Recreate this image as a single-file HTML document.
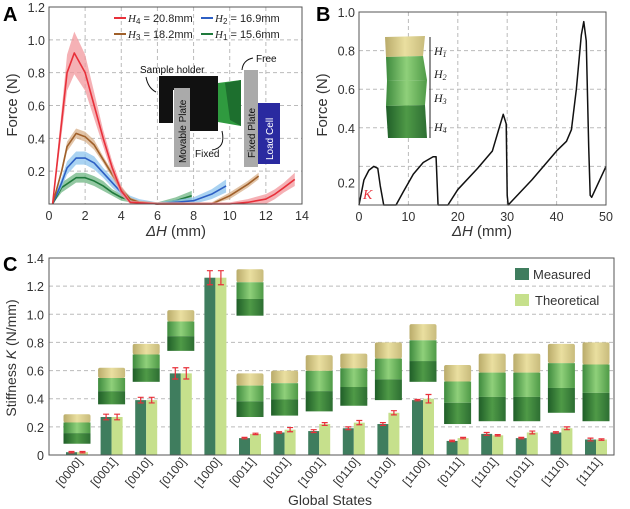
<!DOCTYPE html>
<html><head><meta charset="utf-8">
<style>
html,body{margin:0;padding:0;background:#fff;}
svg{display:block;font-family:"Liberation Sans",Arial,sans-serif;}
</style></head>
<body>
<svg id="fig" width="630" height="509" viewBox="0 0 630 509">
<defs>
<linearGradient id="gy" x1="0" x2="1"><stop offset="0" stop-color="#b9ab6a"/><stop offset="0.5" stop-color="#eadfa0"/><stop offset="1" stop-color="#c8bb7c"/></linearGradient>
<linearGradient id="gg" x1="0" x2="1"><stop offset="0" stop-color="#3e8a3e"/><stop offset="0.5" stop-color="#8fd07a"/><stop offset="1" stop-color="#4f9a47"/></linearGradient>
<linearGradient id="gd" x1="0" x2="1"><stop offset="0" stop-color="#1f5e28"/><stop offset="0.5" stop-color="#4f9a47"/><stop offset="1" stop-color="#2d6e32"/></linearGradient>
</defs>
<g id="pa"></g>
<g id="pb"></g>
<g id="pc"></g>
</svg>
<script>
// ---------- Panel A data ----------
const aXTicks = [0,2,4,6,8,10,12,14];
const aYTicks = [0.2,0.4,0.6,0.8,1.0,1.2];
const aH4x = [0.2,0.5,1,1.4,2,2.5,3,3.5,4,4.5,6,8,10,11,12,12.5,13,13.6];
const aH4y = [0,0.3,0.8,0.92,0.8,0.6,0.4,0.22,0.08,0.01,0,0,0,0.01,0.03,0.06,0.1,0.15];
const aH4e = [0.01,0.05,0.11,0.13,0.11,0.08,0.05,0.04,0.03,0.01,0.01,0.01,0.01,0.02,0.03,0.03,0.03,0.04];
const aH3x = [0.2,0.7,1,1.5,2,2.5,3,3.5,4,4.5,5,6,9,10,11,11.6];
const aH3y = [0,0.2,0.35,0.43,0.41,0.36,0.27,0.18,0.09,0.03,0.01,0,0,0.05,0.12,0.17];
const aH3e = [0.01,0.02,0.03,0.03,0.03,0.03,0.02,0.02,0.02,0.01,0.01,0.01,0.01,0.02,0.02,0.02];
const aH2x = [0.2,0.7,1,1.5,2,2.5,3,3.5,4,4.5,5,6,8,9,9.8];
const aH2y = [0,0.13,0.22,0.28,0.28,0.25,0.19,0.13,0.07,0.03,0.01,0,0.02,0.06,0.11];
const aH2e = [0.01,0.03,0.04,0.04,0.04,0.04,0.03,0.03,0.02,0.02,0.02,0.01,0.02,0.03,0.04];
const aH1x = [0.2,0.7,1.5,2,2.5,3,3.5,4,5,6,7,7.9];
const aH1y = [0,0.1,0.16,0.16,0.14,0.11,0.07,0.04,0.01,0,0.02,0.05];
const aH1e = [0.01,0.03,0.03,0.03,0.03,0.03,0.02,0.02,0.01,0.01,0.02,0.03];
// ---------- Panel B data ----------
const bXTicks = [0,10,20,30,40,50];
const bYTicks = [0.2,0.4,0.6,0.8,1.0];
const bX = [0,1,2,3,3.8,4.3,5,7.5,9,11,13,15,15.6,16,18,20,24,27,28.5,29.2,29.8,30,30.2,35,40,42,43,44,45,45.5,46,46.5,46.8,47.1,50];
const bY = [0,0.13,0.18,0.2,0.19,0.1,0,0,0.07,0.16,0.22,0.25,0.25,0,0,0.08,0.19,0.28,0.41,0.47,0.42,0.05,0,0.13,0.28,0.33,0.39,0.6,0.88,0.95,0.85,0.3,0.05,0.04,0.2];
// ---------- Panel C data ----------
const cCats = ["[0000]","[0001]","[0010]","[0100]","[1000]","[0011]","[0101]","[1001]","[0110]","[1010]","[1100]","[0111]","[1101]","[1011]","[1110]","[1111]"];
const cMeasured = [0.02,0.27,0.39,0.58,1.26,0.12,0.16,0.17,0.19,0.22,0.39,0.10,0.15,0.12,0.16,0.11];
const cMeasErr = [0.005,0.02,0.02,0.04,0.05,0.005,0.005,0.01,0.01,0.01,0.005,0.005,0.01,0.005,0.005,0.01];
const cTheory = [0.02,0.27,0.39,0.58,1.26,0.15,0.18,0.22,0.23,0.30,0.40,0.12,0.14,0.16,0.19,0.11];
const cTheoErr = [0.005,0.02,0.02,0.04,0.05,0.005,0.015,0.01,0.015,0.015,0.03,0.005,0.005,0.01,0.01,0.005];
const cYTicks = [0,0.2,0.4,0.6,0.8,1.0,1.2,1.4];
const cImgTop = [0.29,0.62,0.79,1.03,1.32,0.58,0.60,0.71,0.72,0.80,0.93,0.64,0.72,0.72,0.79,0.80];
const cImgBot = [0.08,0.36,0.52,0.74,0.99,0.27,0.28,0.31,0.35,0.39,0.52,0.22,0.24,0.24,0.30,0.24];

const NS="http://www.w3.org/2000/svg";
function mk(parent,tag,attrs,text){const e=document.createElementNS(NS,tag);for(const k in attrs)e.setAttribute(k,attrs[k]);if(text!==undefined)e.textContent=text;parent.appendChild(e);return e;}

// ===== Panel A =====
(function(){
const g=document.getElementById('pa');
const L=49,R=302,T=7,B=204;
const sx=v=>L+v/14*(R-L), sy=v=>B-v/1.2*(B-T);
let t=mk(g,'text',{x:3,y:21,'font-size':20,'font-weight':'bold'},'A');

aXTicks.forEach(v=>{ if(v>0&&v<14){const l=mk(g,'line',{x1:sx(v),x2:sx(v),y1:T,y2:B,stroke:'#bbb','stroke-dasharray':'4,3'});}
 const tx=mk(g,'text',{x:sx(v),y:B+16,'font-size':12.5,'text-anchor':'middle',fill:'#333'},String(v));
 });
aYTicks.forEach(v=>{ if(v<1.2){const l=mk(g,'line',{x1:L,x2:R,y1:sy(v),y2:sy(v),stroke:'#bbb','stroke-dasharray':'4,3'});}
 const tx=mk(g,'text',{x:L-4,y:sy(v)+5,'font-size':12.5,'text-anchor':'end',fill:'#333'},v.toFixed(1));
 });
const series=[[aH1x,aH1y,aH1e,'#1f7a3c','#6fb583','h1'],[aH2x,aH2y,aH2e,'#2d5fc4','#8ec4ee','h2'],[aH3x,aH3y,aH3e,'#a0602a','#d8b08a','h3'],[aH4x,aH4y,aH4e,'#e8303a','#f2979c','h4']];
series.forEach(s=>{
 const [xs,ys,es,c,cf,n]=s;
 let up=xs.map((x,i)=>sx(x)+','+sy(ys[i]+es[i])).join(' ');
 let dn=xs.map((x,i)=>sx(x)+','+sy(Math.max(0,ys[i]-es[i]))).reverse().join(' ');
 const band=mk(g,'polygon',{points:up+' '+dn,fill:cf,opacity:0.75});
 
 const ln=mk(g,'polyline',{points:xs.map((x,i)=>sx(x)+','+sy(ys[i])).join(' '),fill:'none',stroke:c,'stroke-width':1.6,'stroke-linejoin':'round'});
 
});
const fr=mk(g,'rect',{x:L,y:T,width:R-L,height:B-T,fill:'none',stroke:'#555','stroke-width':1});

const yl=mk(g,'text',{x:0,y:0,'font-size':15,'text-anchor':'middle',fill:'#333',transform:'translate(17,105) rotate(-90)'},'Force (N)');

const xl=mk(g,'text',{x:176,y:236,'font-size':15,'text-anchor':'middle',fill:'#333'});
xl.innerHTML='<tspan font-style="italic">ΔH</tspan> (mm)';

const leg=[[114,22,'#e8303a','4','20.8mm'],[201,22,'#2d5fc4','2','16.9mm'],[114,38,'#a0602a','3','18.2mm'],[201,38,'#1f7a3c','1','15.6mm']];
leg.forEach(e=>{const lg=mk(g,'g',{});
 mk(lg,'line',{x1:e[0],x2:e[0]+12,y1:e[1]-4,y2:e[1]-4,stroke:e[2],'stroke-width':2});
 const tx=mk(lg,'text',{x:e[0]+14,y:e[1],'font-size':11,fill:'#222'});
 tx.innerHTML='<tspan font-style="italic" font-family="Liberation Serif">H</tspan><tspan font-size="8" dy="2">'+e[3]+'</tspan><tspan dy="-2"> = '+e[4]+'</tspan>';});
const ins=mk(g,'g',{});
mk(ins,'path',{d:'M159,76 L218,76 L218,131 L190,131 L190,90 L173,90 L173,123 L159,123 Z',fill:'#111'});
mk(ins,'rect',{x:174,y:88,width:16,height:79,fill:'#aaa'});
mk(ins,'text',{x:0,y:0,'font-size':10,fill:'#111',transform:'translate(186,163) rotate(-90)'},'Movable Plate');
mk(ins,'polygon',{points:'218,83 241,80 241,126 218,122',fill:'#2f9a3f'});
mk(ins,'polygon',{points:'225,83 241,80 241,126 230,120',fill:'#1d6f2e'});
mk(ins,'rect',{x:244,y:70,width:14,height:97,fill:'#aaa'});
mk(ins,'text',{x:0,y:0,'font-size':10,fill:'#111',transform:'translate(255,158) rotate(-90)'},'Fixed Plate');
mk(ins,'rect',{x:258,y:103,width:22,height:61,fill:'#2a2aa0'});
mk(ins,'text',{x:0,y:0,'font-size':10,fill:'#fff',transform:'translate(273,160) rotate(-90)'},'Load Cell');
mk(ins,'text',{x:140,y:73,'font-size':10,fill:'#111'},'Sample holder');
mk(ins,'text',{x:195,y:157,'font-size':10,fill:'#111'},'Fixed');
mk(ins,'text',{x:256,y:62,'font-size':10,fill:'#111'},'Free');
mk(ins,'path',{d:'M146,77 Q148,88 156,92',fill:'none',stroke:'#111'});
mk(ins,'path',{d:'M253,58 Q243,60 242,70',fill:'none',stroke:'#111'});
mk(ins,'path',{d:'M212,150 Q226,148 222,131',fill:'none',stroke:'#111'});
})();

// ===== Panel B =====
(function(){
const g=document.getElementById('pb');
const L=359,R=606,T=12,B=205;
const sx=v=>L+v/50*(R-L), sy=v=>B-v/1.0*(B-T);
let t=mk(g,'text',{x:316,y:21,'font-size':20,'font-weight':'bold'},'B');

bXTicks.forEach(v=>{ if(v>0&&v<50){const l=mk(g,'line',{x1:sx(v),x2:sx(v),y1:T,y2:B,stroke:'#bbb','stroke-dasharray':'4,3'});}
 const tx=mk(g,'text',{x:sx(v),y:B+16,'font-size':12.5,'text-anchor':'middle',fill:'#333'},String(v));
 });
bYTicks.forEach(v=>{ if(v<1.0){const l=mk(g,'line',{x1:L,x2:R,y1:sy(v),y2:sy(v),stroke:'#bbb','stroke-dasharray':'4,3'});}
 const off = v===0.2?21:5;
 const tx=mk(g,'text',{x:L-4,y:sy(v)+off,'font-size':12.5,'text-anchor':'end',fill:'#333'},v.toFixed(1));
 });
const ln=mk(g,'polyline',{points:bX.map((x,i)=>sx(x)+','+sy(bY[i])).join(' '),fill:'none',stroke:'#111','stroke-width':1.5,'stroke-linejoin':'round'});

const fr=mk(g,'rect',{x:L,y:T,width:R-L,height:B-T,fill:'none',stroke:'#555'});

const yl=mk(g,'text',{x:0,y:0,'font-size':15,'text-anchor':'middle',fill:'#333',transform:'translate(327,105) rotate(-90)'},'Force (N)');

const xl=mk(g,'text',{x:482,y:236,'font-size':15,'text-anchor':'middle',fill:'#333'});
xl.innerHTML='<tspan font-style="italic">ΔH</tspan> (mm)';

const k=mk(g,'text',{x:363,y:199,'font-size':14,fill:'#e8303a','font-style':'italic','font-family':'Liberation Serif'},'K');

const st=mk(g,'g',{});
mk(st,'polygon',{points:'385,37 425,36 423,56 386,57',fill:'url(#gy)'});
mk(st,'polygon',{points:'386,57 423,56 427,80 387,81',fill:'url(#gg)'});
mk(st,'polygon',{points:'387,81 427,80 425,105 386,106',fill:'url(#gg)'});
mk(st,'polygon',{points:'386,106 425,105 427,138 388,138',fill:'url(#gd)'});
mk(st,'line',{x1:430,x2:430,y1:37,y2:138,stroke:'#222'});
[['1',55],['2',78],['3',102],['4',131]].forEach(h=>{const tx=mk(st,'text',{x:434,y:h[1],'font-size':12,'font-style':'italic','font-family':'Liberation Serif',fill:'#222'});tx.innerHTML='H<tspan font-size="8" dy="2">'+h[0]+'</tspan>';});
})();

// ===== Panel C =====
(function(){
const g=document.getElementById('pc');
const L=49,R=614,T=258,B=455;
const step=34.6, first=77;
const cx=i=>first+step*i, sy=v=>B-v/1.4*(B-T);
const bw=11;
let t=mk(g,'text',{x:3,y:271,'font-size':20,'font-weight':'bold'},'C');

cYTicks.forEach(v=>{ if(v>0&&v<1.4){const l=mk(g,'line',{x1:L,x2:R,y1:sy(v),y2:sy(v),stroke:'#bbb','stroke-dasharray':'4,3'});}
 const tx=mk(g,'text',{x:L-5,y:sy(v)+5,'font-size':12.5,'text-anchor':'end',fill:'#333'},v===0?'0':v.toFixed(1));
 });
cCats.forEach((c,i)=>{
 const ox = i===4 ? cx(5) : cx(i);
 const top=sy(cImgTop[i]), bot=sy(cImgBot[i]), h=bot-top, w=27;
 const im=mk(g,'g',{});
 mk(im,'rect',{x:ox-w/2,y:top,width:w,height:h*0.28,fill:'url(#gy)',rx:2});
 mk(im,'rect',{x:ox-w/2,y:top+h*0.28,width:w,height:h*0.36,fill:'url(#gg)'});
 mk(im,'rect',{x:ox-w/2,y:top+h*0.64,width:w,height:h*0.36,fill:'url(#gd)'});
});
cCats.forEach((c,i)=>{
 const x0=cx(i);
 const m=mk(g,'rect',{x:x0-bw,y:sy(cMeasured[i]),width:bw,height:B-sy(cMeasured[i]),fill:'#3f7d5e'});
 
 const th=mk(g,'rect',{x:x0,y:sy(cTheory[i]),width:bw,height:B-sy(cTheory[i]),fill:'#c6e08c'});
 
 [[x0-bw/2,cMeasured[i],cMeasErr[i]],[x0+bw/2,cTheory[i],cTheoErr[i]]].forEach(e=>{
  const eb=mk(g,'path',{d:`M${e[0]-3},${sy(e[1]+e[2])}H${e[0]+3}M${e[0]},${sy(e[1]+e[2])}V${sy(e[1]-e[2])}M${e[0]-3},${sy(e[1]-e[2])}H${e[0]+3}`,stroke:'#e8303a','stroke-width':1.2,fill:'none'});
  });
 const tx=mk(g,'text',{x:0,y:0,'font-size':12,'text-anchor':'end',fill:'#333',transform:`translate(${x0+6},${B+7}) rotate(-50)`},c);
 
});
const fr=mk(g,'rect',{x:L,y:T,width:R-L,height:B-T,fill:'none',stroke:'#555'});

const yl=mk(g,'text',{x:0,y:0,'font-size':14,'text-anchor':'middle',fill:'#333',transform:'translate(16,358) rotate(-90)'});
yl.innerHTML='Stiffness <tspan font-style="italic">K</tspan> (N/mm)';

const xl=mk(g,'text',{x:330,y:505,'font-size':14,'text-anchor':'middle',fill:'#333'},'Global States');

const l1=mk(g,'g',{});
mk(l1,'rect',{x:515,y:268,width:14,height:12,fill:'#3f7d5e'});
mk(l1,'text',{x:533,y:279,'font-size':13,fill:'#333'},'Measured');
const l2=mk(g,'g',{});
mk(l2,'rect',{x:515,y:294,width:14,height:12,fill:'#c6e08c'});
mk(l2,'text',{x:535,y:305,'font-size':13,fill:'#333'},'Theoretical');
})();
</script>
</body></html>
